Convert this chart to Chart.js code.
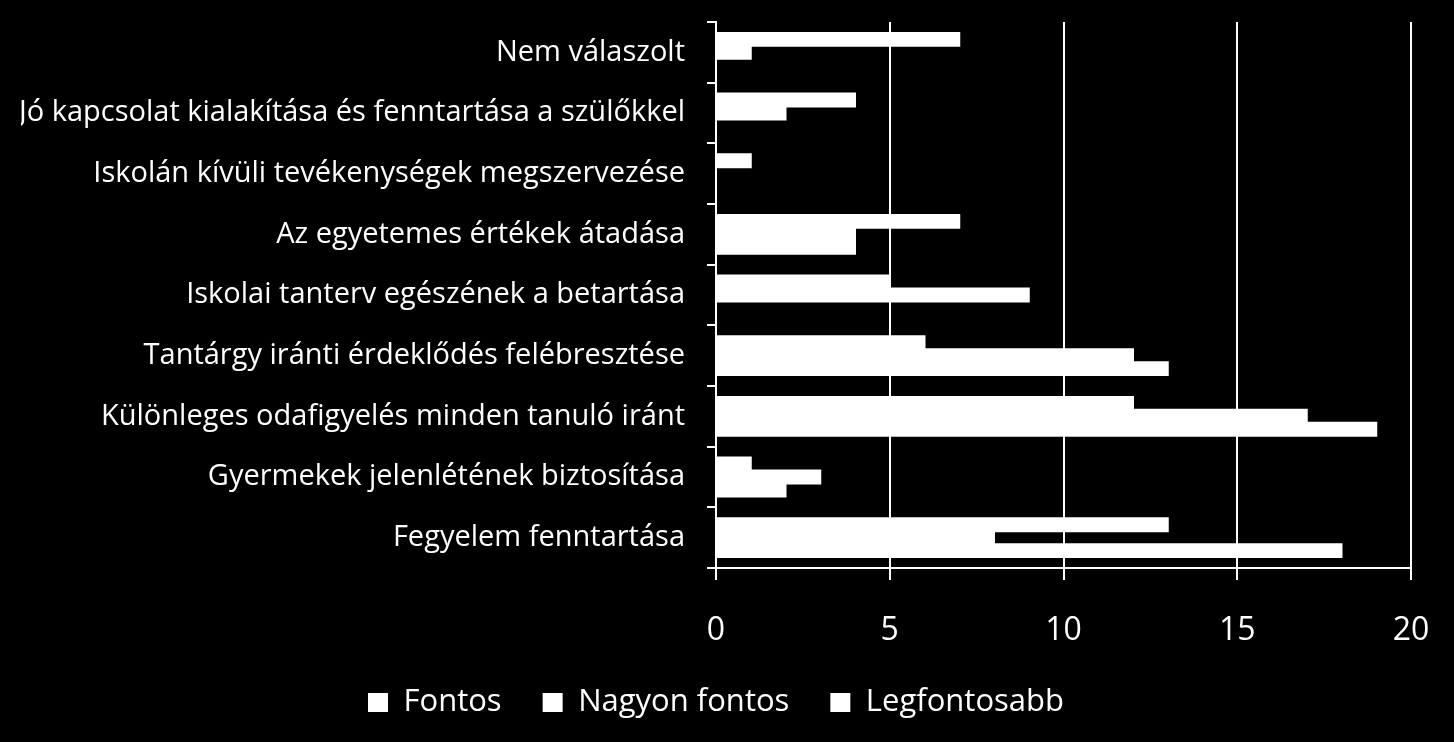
<!DOCTYPE html>
<html>
<head>
<meta charset="utf-8">
<script src="https://cdn.jsdelivr.net/npm/chart.js@4/dist/chart.umd.min.js"></script>
<style>
  html, body { margin: 0; padding: 0; background: #000; }
  #canvas1 { width: 1454px; height: 742px; position: relative; }
</style>
</head>
<body>
<div id="canvas1"><canvas id="Graphique"></canvas></div>
<script>
/* Chart : mi a legfontosabb feladat - barres horizontales groupées */
var categories = [
    'Nem válaszolt',
    'Jó kapcsolat kialakítása és fenntartása a szülőkkel',
    'Iskolán kívüli tevékenységek megszervezése',
    'Az egyetemes értékek átadása',
    'Iskolai tanterv egészének a betartása',
    'Tantárgy iránti érdeklődés felébresztése',
    'Különleges odafigyelés minden tanuló iránt',
    'Gyermekek jelenlétének biztosítása',
    'Fegyelem fenntartása'
];
var fontos       = [0, 0, 0, 4, 0, 13, 19, 2, 18];
var nagyonFontos = [1, 2, 0, 4, 9, 12, 17, 3, 8];
var legfontosabb = [7, 4, 1, 7, 5, 6, 12, 1, 13];
var xTicks = [0, 5, 10, 15, 20];

var fontName = "'Open Sans', 'Noto Sans', sans-serif";
var chartElem = document.getElementById('Graphique').getContext('2d');

var data = {
    labels: categories,
    datasets: [ // ordre inversé : la première série est en bas du groupe
        { label: 'Legfontosabb', data: legfontosabb, backgroundColor: '#FFFFFF', borderWidth: 0 },
        { label: 'Nagyon fontos', data: nagyonFontos, backgroundColor: '#FFFFFF', borderWidth: 0 },
        { label: 'Fontos', data: fontos, backgroundColor: '#FFFFFF', borderWidth: 0 }
    ]
};

var option = {
    indexAxis: 'y',
    responsive: true,
    maintainAspectRatio: false,
    animation: false,
    layout: { padding: { top: 22, right: 43, bottom: 14, left: 21 } },
    datasets: { bar: { categoryPercentage: 0.64, barPercentage: 1.0, inflateAmount: 1 } },
    plugins: {
        legend: {
            display: true,
            position: 'bottom',
            reverse: true,
            labels: {
                color: '#FFFFFF',
                boxWidth: 20,
                boxHeight: 19,
                padding: 41,
                font: { family: fontName, size: 31 }
            }
        },
        tooltip: { enabled: false }
    },
    scales: {
        x: {
            min: 0,
            max: 20,
            afterBuildTicks: function (axis) {
                axis.ticks = xTicks.map(function (v) { return { value: v }; });
            },
            afterFit: function (axis) {
                axis.height = 78; // padding compté une seule fois
                axis.paddingLeft = 0;
                axis.paddingRight = 0;
            },
            grid: { color: '#FFFFFF', lineWidth: 2, tickLength: 12 },
            border: { display: true, color: '#FFFFFF', width: 2 },
            ticks: { color: '#FFFFFF', padding: 36, font: { family: fontName, size: 32, lineHeight: 0.9 } }
        },
        y: {
            afterFit: function (axis) {
                axis.paddingTop = 0; // pas de marge pour les étiquettes en haut
                axis.paddingBottom = 0;
            },
            grid: { color: '#FFFFFF', lineWidth: 2, drawOnChartArea: false, drawTicks: true, tickLength: 9, offset: true },
            border: { display: true, color: '#FFFFFF', width: 2 },
            ticks: { color: '#FFFFFF', padding: 22, font: { family: fontName, size: 29 } }
        }
    }
};

var chartObj = new Chart(chartElem, {
    type: 'bar',
    data: data,
    options: option
});
</script>
</body>
</html>
